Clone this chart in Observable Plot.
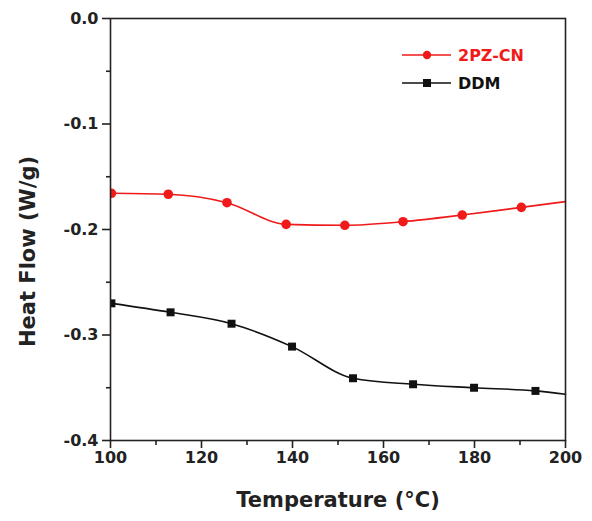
<!DOCTYPE html>
<html><head><meta charset="utf-8">
<script src="https://cdn.jsdelivr.net/npm/d3@7"></script>
<script src="https://cdn.jsdelivr.net/npm/@observablehq/plot@0.6"></script>
<style>body{margin:0;background:#fff;} svg{display:block;}</style>
</head><body><div id="chart"></div>
<script>
const seriesNames = ["2PZ-CN", "DDM"];
const seriesColors = ["#f01a1a", "#111111"];
const redX = [100.2, 112.7, 125.6, 138.6, 151.5, 164.3, 177.3, 190.3, 200];
const redY = [-0.1657, -0.1666, -0.1746, -0.1951, -0.1960, -0.1926, -0.1863, -0.1790, -0.1736];
const blackX = [100.2, 113.2, 126.6, 139.9, 153.3, 166.5, 179.9, 193.4, 200];
const blackY = [-0.2700, -0.2785, -0.2893, -0.3110, -0.3410, -0.3467, -0.3500, -0.3530, -0.3562];
const xTicks = [100, 120, 140, 160, 180, 200];
const xMinor = [110, 130, 150, 170, 190];
const yTicks = [0, -0.1, -0.2, -0.3, -0.4];
const yMinor = [-0.05, -0.15, -0.25, -0.35];
const xTitle = "Temperature (°C)";
const yTitle = "Heat Flow (W/g)";

const red = redX.map((x, i) => ({x, y: redY[i]}));
const black = blackX.map((x, i) => ({x, y: blackY[i]}));
const redMarkers = red.slice(0, 8);
const blackMarkers = black.slice(0, 8);
const FONT = "'DejaVu Sans', 'Liberation Sans', Arial, sans-serif";

const plot = Plot.plot({
  width: 592, height: 521,
  marginLeft: 110, marginRight: 27, marginTop: 18, marginBottom: 81,
  x: {domain: [100, 200]},
  y: {domain: [-0.4, 0]},
  style: {fontFamily: FONT, fontSize: "16px", fontWeight: "bold", color: "#222", background: "#fff"},
  marks: [
    Plot.line(red, {x: "x", y: "y", stroke: seriesColors[0], strokeWidth: 1.6, curve: "monotone-x"}),
    Plot.line(black, {x: "x", y: "y", stroke: seriesColors[1], strokeWidth: 1.6, curve: "monotone-x"}),
    Plot.dot(redMarkers, {x: "x", y: "y", fill: seriesColors[0], r: 4.8, symbol: "circle", clip: "frame"}),
    Plot.dot(blackMarkers, {x: "x", y: "y", fill: seriesColors[1], r: 4.5, symbol: "square", clip: "frame"}),
    Plot.frame({stroke: "#222", strokeWidth: 1.6}),
    Plot.axisX(xTicks, {tickSize: 8, tickPadding: 3, label: null, tickFormat: d => String(d), strokeWidth: 1.6, fill: "#222"}),
    Plot.axisX(xMinor, {tickSize: 5, label: null, tickFormat: () => "", strokeWidth: 1.6}),
    Plot.axisY(yTicks, {tickSize: 8, tickPadding: 4, label: null, tickFormat: d => d.toFixed(1), strokeWidth: 1.6, fill: "#222"}),
    Plot.axisY(yMinor, {tickSize: 4, label: null, tickFormat: () => "", strokeWidth: 1.6}),
    Plot.text([xTitle], {text: d => d, frameAnchor: "bottom", dy: 66, fontSize: 21, fontWeight: "bold", fill: "#222"}),
    Plot.text([yTitle], {text: d => d, frameAnchor: "left", textAnchor: "middle", dx: -82, dy: 22, rotate: -90, fontSize: 21, fontWeight: "bold", fill: "#222"})
  ]
});
document.getElementById("chart").appendChild(plot);

// legend
const svg = d3.select(plot);
const lg = svg.append("g").attr("font-family", FONT).attr("font-weight", "bold").attr("font-size", 16).attr("text-anchor", "start");
seriesNames.forEach((name, i) => {
  const y = 55 + i * 28;
  lg.append("line").attr("x1", 402).attr("x2", 451).attr("y1", y).attr("y2", y).attr("stroke", seriesColors[i]).attr("stroke-width", 1.6);
  if (i === 0) lg.append("circle").attr("cx", 427).attr("cy", y).attr("r", 4.2).attr("fill", seriesColors[i]);
  else lg.append("rect").attr("x", 423).attr("y", y - 4).attr("width", 8).attr("height", 8).attr("fill", seriesColors[i]);
  lg.append("text").attr("x", 458).attr("y", y).attr("dy", "0.36em").attr("fill", seriesColors[i]).text(name);
});
</script></body></html>
